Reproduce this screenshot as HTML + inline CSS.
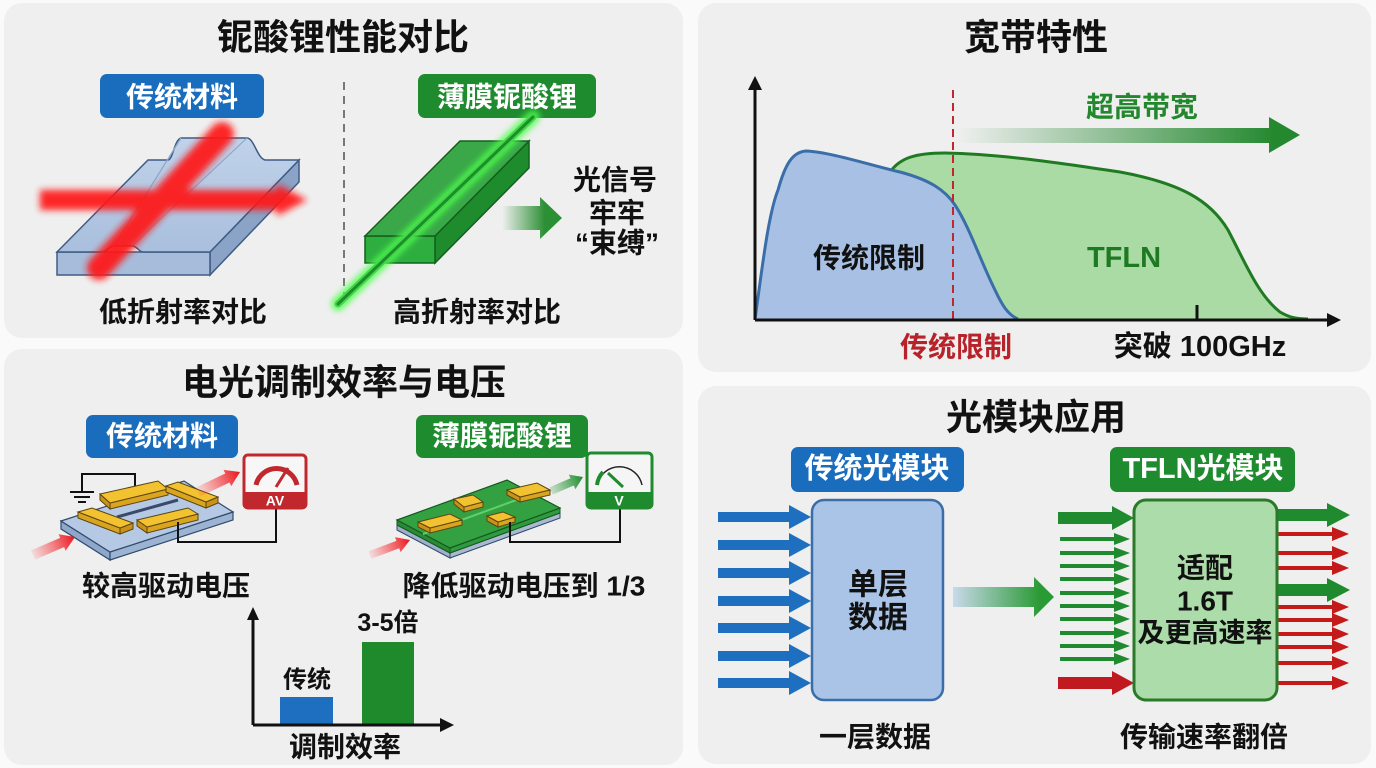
<!DOCTYPE html>
<html><head><meta charset="utf-8"><style>
html,body{margin:0;padding:0;background:#fafafa;}
svg{display:block;}
text{font-family:"Liberation Sans","Noto Sans CJK SC",sans-serif;font-weight:bold;}
</style></head><body>
<svg width="1376" height="768" viewBox="0 0 1376 768" xmlns="http://www.w3.org/2000/svg">
<defs>
<filter id="bl" x="-30%" y="-30%" width="160%" height="160%"><feGaussianBlur stdDeviation="3.5"/></filter>
<filter id="gl" x="-30%" y="-30%" width="160%" height="160%"><feGaussianBlur stdDeviation="3"/></filter>
<linearGradient id="gArr1" x1="502" y1="0" x2="545" y2="0" gradientUnits="userSpaceOnUse"><stop offset="0" stop-color="#2b8f34" stop-opacity="0"/><stop offset="1" stop-color="#2b8f34"/></linearGradient>
<linearGradient id="gArr2" x1="958" y1="0" x2="1275" y2="0" gradientUnits="userSpaceOnUse"><stop offset="0" stop-color="#2a8a35" stop-opacity="0"/><stop offset="1" stop-color="#24882f"/></linearGradient>
<linearGradient id="gArr3" x1="953" y1="0" x2="1040" y2="0" gradientUnits="userSpaceOnUse"><stop offset="0" stop-color="#c9d9ea"/><stop offset="1" stop-color="#2a9a35"/></linearGradient>
<linearGradient id="rA1" x1="198" y1="492" x2="240" y2="472" gradientUnits="userSpaceOnUse"><stop offset="0" stop-color="#ff3030" stop-opacity="0.1"/><stop offset="1" stop-color="#e8141c"/></linearGradient>
<linearGradient id="rA2" x1="33" y1="555" x2="75" y2="537" gradientUnits="userSpaceOnUse"><stop offset="0" stop-color="#ff3030" stop-opacity="0.1"/><stop offset="1" stop-color="#e8141c"/></linearGradient>
<linearGradient id="rA3" x1="370" y1="555" x2="410" y2="540" gradientUnits="userSpaceOnUse"><stop offset="0" stop-color="#ff3030" stop-opacity="0.1"/><stop offset="1" stop-color="#e8141c"/></linearGradient>
<linearGradient id="gA4" x1="551" y1="491" x2="583" y2="477" gradientUnits="userSpaceOnUse"><stop offset="0" stop-color="#2a9a35" stop-opacity="0.2"/><stop offset="1" stop-color="#1f8a2e"/></linearGradient>
<linearGradient id="slabTop" x1="0" y1="140" x2="0" y2="252" gradientUnits="userSpaceOnUse"><stop offset="0" stop-color="#c0d2ea"/><stop offset="1" stop-color="#a9bfdd"/></linearGradient>
</defs>

<!-- panels -->
<rect x="4" y="3" width="679" height="335" rx="18" fill="#efefef"/>
<rect x="4" y="349" width="679" height="416" rx="18" fill="#efefef"/>
<rect x="698" y="3" width="673" height="369" rx="18" fill="#efefef"/>
<rect x="698" y="386" width="673" height="378" rx="18" fill="#efefef"/>

<!-- ================= TOP LEFT ================= -->
<text x="343" y="37" font-size="36" text-anchor="middle" dominant-baseline="central" fill="#111">铌酸锂性能对比</text>
<rect x="100" y="74" width="164" height="44" rx="7" fill="#1a6dbd"/>
<text x="182" y="97" font-size="28" text-anchor="middle" dominant-baseline="central" fill="#fff">传统材料</text>
<rect x="418" y="74" width="178" height="44" rx="7" fill="#1f8b2f"/>
<text x="507" y="97" font-size="28" text-anchor="middle" dominant-baseline="central" fill="#fff">薄膜铌酸锂</text>
<line x1="344" y1="82" x2="344" y2="296" stroke="#777" stroke-width="2" stroke-dasharray="8 6"/>

<!-- slab -->
<polygon points="210,252 299,160 299,182 210,275" fill="#8aa3c6" stroke="#3e5c84" stroke-width="1.5"/>
<rect x="57" y="252" width="153" height="23" fill="#a6bcda" stroke="#3e5c84" stroke-width="1.5"/>
<path d="M57,252 L148,160 L168,160 C173,160 174,140 181,138 L247,138 C254,138 257,158 265,160 L299,160 L210,252 L143,252 C139,252 137,246 132,246 L114,246 C109,246 107,252 102,252 Z" fill="url(#slabTop)" stroke="#3e5c84" stroke-width="1.5"/>
<path d="M181,138 L114,246 M247,138 L132,246" stroke="#8ea6c8" stroke-width="1.2" fill="none"/>
<!-- red light -->
<g filter="url(#bl)" opacity="0.92">
<polygon points="40,190 277,190 277,184 307,200 277,216 277,210 40,210" fill="#ff1414"/>
<line x1="99" y1="268" x2="222" y2="134" stroke="#ff1414" stroke-width="24" stroke-linecap="round"/>
</g>
<text x="183" y="312" font-size="28" text-anchor="middle" dominant-baseline="central" fill="#111">低折射率对比</text>

<!-- green block -->
<polygon points="435,236 529,141 529,168 435,263" fill="#1e8c2c" stroke="#12601c" stroke-width="1.5"/>
<rect x="365" y="236" width="70" height="27" fill="#2fae40" stroke="#12601c" stroke-width="1.5"/>
<polygon points="365,236 460,141 529,141 435,236" fill="#3aa848" stroke="#12601c" stroke-width="1.5"/>
<line x1="338" y1="304" x2="533" y2="117" stroke="#4dff4d" stroke-width="14" stroke-linecap="round" filter="url(#gl)" opacity="0.8"/>
<line x1="338" y1="304" x2="533" y2="117" stroke="#45d64a" stroke-width="7" stroke-linecap="round"/>
<line x1="338" y1="304" x2="533" y2="117" stroke="#1c8f2a" stroke-width="3" stroke-linecap="round"/>
<polygon points="502,206 540,206 540,197 562,218 540,239 540,230 502,230" fill="url(#gArr1)"/>
<text x="615" y="180" font-size="28" text-anchor="middle" dominant-baseline="central" fill="#111">光信号</text>
<text x="617" y="213" font-size="28" text-anchor="middle" dominant-baseline="central" fill="#111">牢牢</text>
<text x="617" y="243" font-size="28" text-anchor="middle" dominant-baseline="central" fill="#111">“束缚”</text>
<text x="477" y="312" font-size="28" text-anchor="middle" dominant-baseline="central" fill="#111">高折射率对比</text>

<!-- ================= TOP RIGHT ================= -->
<text x="1036" y="37" font-size="36" text-anchor="middle" dominant-baseline="central" fill="#111">宽带特性</text>
<polygon points="958,128 1269,128 1269,117 1300,135 1269,153 1269,143 958,143" fill="url(#gArr2)"/>
<text x="1142" y="107" font-size="28" text-anchor="middle" dominant-baseline="central" fill="#23882d">超高带宽</text>
<!-- green area -->
<path d="M890,320 L890,172 C900,158 915,153 945,153 C1000,154 1060,163 1120,172 C1180,183 1210,200 1228,230 C1245,262 1258,295 1280,312 C1290,318 1298,319 1308,319 L890,320 Z" fill="#aadba4"/>
<path d="M890,172 C900,158 915,153 945,153 C1000,154 1060,163 1120,172 C1180,183 1210,200 1228,230 C1245,262 1258,295 1280,312 C1290,318 1298,319 1308,319" fill="none" stroke="#1f7a22" stroke-width="3"/>
<!-- blue area -->
<path d="M755,319 C762,270 768,215 778,190 C785,165 792,152 806,151 C830,152 870,165 900,172 C930,180 945,190 955,205 C970,228 980,260 995,290 C1002,305 1008,315 1018,319 Z" fill="#a7c0e3"/>
<path d="M755,319 C762,270 768,215 778,190 C785,165 792,152 806,151 C830,152 870,165 900,172 C930,180 945,190 955,205 C970,228 980,260 995,290 C1002,305 1008,315 1018,319" fill="none" stroke="#3a6ea8" stroke-width="3"/>
<line x1="953" y1="90" x2="953" y2="320" stroke="#c0282d" stroke-width="2" stroke-dasharray="8 5"/>
<!-- axes -->
<line x1="755" y1="320" x2="755" y2="86" stroke="#111" stroke-width="3"/>
<polygon points="748,90 755,76 762,90" fill="#111"/>
<line x1="755" y1="320" x2="1330" y2="320" stroke="#111" stroke-width="3"/>
<polygon points="1327,313 1341,320 1327,327" fill="#111"/>
<line x1="1197" y1="305" x2="1197" y2="320" stroke="#111" stroke-width="3"/>
<text x="869" y="258" font-size="28" text-anchor="middle" dominant-baseline="central" fill="#111">传统限制</text>
<text x="1124" y="258" font-size="29" text-anchor="middle" dominant-baseline="central" fill="#1e7a22">TFLN</text>
<text x="956" y="347" font-size="28" text-anchor="middle" dominant-baseline="central" fill="#b8222a">传统限制</text>
<text x="1200" y="347" font-size="29" text-anchor="middle" dominant-baseline="central" fill="#111">突破 100GHz</text>

<!-- ================= BOTTOM LEFT ================= -->
<text x="344" y="382" font-size="36" text-anchor="middle" dominant-baseline="central" fill="#111">电光调制效率与电压</text>
<rect x="86" y="415" width="152" height="43" rx="7" fill="#1a6dbd"/>
<text x="162" y="436" font-size="28" text-anchor="middle" dominant-baseline="central" fill="#fff">传统材料</text>
<rect x="416" y="415" width="172" height="43" rx="7" fill="#1f8b2f"/>
<text x="502" y="436" font-size="28" text-anchor="middle" dominant-baseline="central" fill="#fff">薄膜铌酸锂</text>

<!-- left device -->
<polygon points="61,521 110,552 110,560 61,529" fill="#8fa7c9" stroke="#2f4a6d" stroke-width="1.2"/>
<polygon points="110,552 233,512 233,520 110,560" fill="#9db3d2" stroke="#2f4a6d" stroke-width="1.2"/>
<polygon points="61,521 184,481 233,512 110,552" fill="#b6c9e4" stroke="#2f4a6d" stroke-width="1.2"/>
<line x1="117" y1="517" x2="178" y2="500" stroke="#3a4a6a" stroke-width="3"/>
<!-- wires -->
<polyline points="82,492 82,474 135,474 135,490" fill="none" stroke="#111" stroke-width="2"/>
<line x1="70" y1="492" x2="94" y2="492" stroke="#111" stroke-width="2"/>
<line x1="74" y1="497" x2="90" y2="497" stroke="#111" stroke-width="2"/>
<line x1="78" y1="502" x2="86" y2="502" stroke="#111" stroke-width="2"/>
<!-- electrodes -->
<g stroke="#5c4510" stroke-width="1">
<polygon points="100,494 110,503 110,509 100,500" fill="#c9931a"/>
<polygon points="110,503 168,489 168,495 110,509" fill="#d9a521"/>
<polygon points="100,494 158,481 168,489 110,503" fill="#f2c230"/>
<polygon points="166,486 206,502 206,508 166,492" fill="#d9a521"/>
<polygon points="206,502 218,497 218,503 206,508" fill="#c9931a"/>
<polygon points="166,486 178,482 218,497 206,502" fill="#f2c230"/>
<polygon points="78,512 120,528 120,534 78,518" fill="#d9a521"/>
<polygon points="120,528 133,523 133,529 120,534" fill="#c9931a"/>
<polygon points="78,512 92,508 133,523 120,528" fill="#f2c230"/>
<polygon points="137,520 147,527 147,533 137,526" fill="#c9931a"/>
<polygon points="147,527 198,514 198,520 147,533" fill="#d9a521"/>
<polygon points="137,520 188,508 198,514 147,527" fill="#f2c230"/>
</g>
<polyline points="178,522 178,542 276,542 276,508" fill="none" stroke="#111" stroke-width="2"/>
<!-- red meter -->
<rect x="244" y="455" width="62" height="53" rx="4" fill="#f7f7f7" stroke="#c0282d" stroke-width="3"/>
<rect x="244" y="492" width="62" height="16" fill="#c0282d"/>
<text x="275" y="500.5" font-size="14" text-anchor="middle" dominant-baseline="central" fill="#fff">AV</text>
<path d="M256,485 A21,21 0 0 1 297,485" fill="none" stroke="#c0282d" stroke-width="5"/>
<line x1="276" y1="487" x2="288" y2="468" stroke="#c0282d" stroke-width="3"/>
<polygon points="195.9,487.5 225.3,473.5 223.5,469.9 240,472 231.3,486.1 229.5,482.5 200.1,496.5" fill="url(#rA1)"/>
<polygon points="31,550.4 60.1,537.9 58.6,534.2 75,537 65.6,550.8 64.1,547.1 35,559.6" fill="url(#rA2)"/>
<text x="166" y="586" font-size="28" text-anchor="middle" dominant-baseline="central" fill="#111">较高驱动电压</text>

<!-- right device -->
<polygon points="397,530 450,558 450,553 397,525" fill="#9fb0c8" stroke="#2f4a6d" stroke-width="1"/>
<polygon points="450,558 560,518 560,513 450,553" fill="#aab9cf" stroke="#2f4a6d" stroke-width="1"/>
<polygon points="397,520 450,548 450,553 397,525" fill="#2a8a36" stroke="#145a1f" stroke-width="1"/>
<polygon points="450,548 560,508 560,513 450,553" fill="#2f9a3e" stroke="#145a1f" stroke-width="1"/>
<polygon points="397,520 507,480 560,508 450,548" fill="#33a142" stroke="#145a1f" stroke-width="1.2"/>
<line x1="423" y1="534" x2="533" y2="494" stroke="#5fd06a" stroke-width="2"/>
<g stroke="#5c4510" stroke-width="1">
<polygon points="464,507 483,502 483,507 464,512" fill="#d9a521"/>
<polygon points="454,499 464,507 464,512 454,504" fill="#c9931a"/>
<polygon points="454,499 473,495 483,502 464,507" fill="#f2c230"/>
<polygon points="520,497 550,490 550,495 520,502" fill="#d9a521"/>
<polygon points="507,490 520,497 520,502 507,495" fill="#c9931a"/>
<polygon points="507,490 537,483 550,490 520,497" fill="#f2c230"/>
<polygon points="430,528 462,520 462,525 430,533" fill="#d9a521"/>
<polygon points="418,522 430,528 430,533 418,527" fill="#c9931a"/>
<polygon points="418,522 450,514 462,520 430,528" fill="#f2c230"/>
<polygon points="498,522 515,517 515,522 498,527" fill="#d9a521"/>
<polygon points="487,516 498,522 498,527 487,521" fill="#c9931a"/>
<polygon points="487,516 503,512 515,517 498,522" fill="#f2c230"/>
</g>
<polyline points="510,522 510,542 620,542 620,508" fill="none" stroke="#111" stroke-width="2"/>
<!-- green meter -->
<rect x="587" y="453" width="65" height="55" rx="4" fill="#f5f5f5" stroke="#1f8a2e" stroke-width="3"/>
<rect x="587" y="492" width="65" height="16" fill="#1f8a2e"/>
<text x="619" y="500.5" font-size="14" text-anchor="middle" dominant-baseline="central" fill="#fff">V</text>
<path d="M597,485 A23,23 0 0 1 642,485" fill="none" stroke="#222" stroke-width="1.5"/>
<path d="M597,485 A23,23 0 0 1 603,472" fill="none" stroke="#1f8a2e" stroke-width="4"/>
<line x1="623" y1="487" x2="608" y2="473" stroke="#1f8a2e" stroke-width="3"/>
<polygon points="549.4,487.4 570.5,478.3 568.8,474.6 583,477 575.4,489.2 573.7,485.5 552.6,494.6" fill="url(#gA4)"/>
<polygon points="368.6,551.3 396.4,540.9 395,537.1 410,540 400.6,552.1 399.2,548.3 371.4,558.7" fill="url(#rA3)"/>
<text x="524" y="586" font-size="28" text-anchor="middle" dominant-baseline="central" fill="#111">降低驱动电压到 1/3</text>

<!-- bar chart -->
<rect x="280" y="697" width="53" height="28" fill="#1e6fbf"/>
<rect x="362" y="642" width="52" height="83" fill="#1e8a2c"/>
<line x1="253" y1="725" x2="253" y2="618" stroke="#111" stroke-width="3"/>
<polygon points="247,620 253,607 259,620" fill="#111"/>
<line x1="253" y1="725" x2="442" y2="725" stroke="#111" stroke-width="3"/>
<polygon points="440,718 454,725 440,732" fill="#111"/>
<text x="307" y="680" font-size="24" text-anchor="middle" dominant-baseline="central" fill="#111">传统</text>
<text x="388" y="623" font-size="25" text-anchor="middle" dominant-baseline="central" fill="#111">3-5倍</text>
<text x="345" y="747" font-size="28" text-anchor="middle" dominant-baseline="central" fill="#111">调制效率</text>

<!-- ================= BOTTOM RIGHT ================= -->
<text x="1036" y="417" font-size="36" text-anchor="middle" dominant-baseline="central" fill="#111">光模块应用</text>
<rect x="791" y="447" width="173" height="45" rx="7" fill="#1a6dbd"/>
<text x="877" y="469" font-size="29" text-anchor="middle" dominant-baseline="central" fill="#fff">传统光模块</text>
<rect x="1110" y="447" width="185" height="45" rx="7" fill="#1f8b2f"/>
<text x="1203" y="469" font-size="29" text-anchor="middle" dominant-baseline="central" fill="#fff">TFLN光模块</text>

<!-- blue input arrows -->
<g fill="#1f6fc0">
<rect x="718" y="512" width="73" height="10"/><polygon points="789,505 811,517 789,529"/>
<rect x="718" y="540" width="73" height="10"/><polygon points="789,533 811,545 789,557"/>
<rect x="718" y="568" width="73" height="10"/><polygon points="789,561 811,573 789,585"/>
<rect x="718" y="596" width="73" height="10"/><polygon points="789,589 811,601 789,613"/>
<rect x="718" y="623" width="73" height="10"/><polygon points="789,616 811,628 789,640"/>
<rect x="718" y="651" width="73" height="10"/><polygon points="789,644 811,656 789,668"/>
<rect x="718" y="678" width="73" height="10"/><polygon points="789,671 811,683 789,695"/>
</g>
<rect x="812" y="500" width="131" height="200" rx="12" fill="#a9c4e6" stroke="#3a6ea8" stroke-width="2.5"/>
<text x="878" y="585" font-size="30" text-anchor="middle" dominant-baseline="central" fill="#111">单层</text>
<text x="878" y="618" font-size="30" text-anchor="middle" dominant-baseline="central" fill="#111">数据</text>
<polygon points="953,587 1034,587 1034,577 1054,597 1034,617 1034,607 953,607" fill="url(#gArr3)"/>

<!-- TFLN input arrows -->
<g fill="#1f8a2e">
<rect x="1058" y="512" width="56" height="12"/><polygon points="1112,506 1134,518 1112,530"/>
</g>
<g stroke="#1f8a2e" stroke-width="4">
<line x1="1060" y1="539" x2="1116" y2="539"/><line x1="1060" y1="553" x2="1116" y2="553"/>
<line x1="1060" y1="566" x2="1116" y2="566"/><line x1="1060" y1="579" x2="1116" y2="579"/>
<line x1="1060" y1="593" x2="1116" y2="593"/><line x1="1060" y1="606" x2="1116" y2="606"/>
<line x1="1060" y1="619" x2="1116" y2="619"/><line x1="1060" y1="633" x2="1116" y2="633"/>
<line x1="1060" y1="646" x2="1116" y2="646"/><line x1="1060" y1="659" x2="1116" y2="659"/>
</g>
<g fill="#1f8a2e">
<polygon points="1114,533 1130,539 1114,545"/><polygon points="1114,547 1130,553 1114,559"/>
<polygon points="1114,560 1130,566 1114,572"/><polygon points="1114,573 1130,579 1114,585"/>
<polygon points="1114,587 1130,593 1114,599"/><polygon points="1114,600 1130,606 1114,612"/>
<polygon points="1114,613 1130,619 1114,625"/><polygon points="1114,627 1130,633 1114,639"/>
<polygon points="1114,640 1130,646 1114,652"/><polygon points="1114,653 1130,659 1114,665"/>
</g>
<g fill="#c0191f">
<rect x="1058" y="677" width="56" height="12"/><polygon points="1112,671 1134,683 1112,695"/>
</g>

<!-- TFLN outputs -->
<g fill="#1f8a2e">
<rect x="1277" y="509" width="52" height="12"/><polygon points="1327,503 1350,515 1327,527"/>
<rect x="1277" y="584" width="52" height="12"/><polygon points="1327,578 1350,590 1327,602"/>
</g>
<g stroke="#c41a1a" stroke-width="4">
<line x1="1277" y1="534" x2="1336" y2="534"/><line x1="1277" y1="553" x2="1336" y2="553"/>
<line x1="1277" y1="568" x2="1336" y2="568"/><line x1="1277" y1="607" x2="1336" y2="607"/>
<line x1="1277" y1="620" x2="1336" y2="620"/><line x1="1277" y1="634" x2="1336" y2="634"/>
<line x1="1277" y1="647" x2="1336" y2="647"/><line x1="1277" y1="663" x2="1336" y2="663"/>
<line x1="1277" y1="683" x2="1336" y2="683"/>
</g>
<g fill="#c41a1a">
<polygon points="1332,527 1349,534 1332,541"/><polygon points="1332,546 1349,553 1332,560"/>
<polygon points="1332,561 1349,568 1332,575"/><polygon points="1332,600 1349,607 1332,614"/>
<polygon points="1332,613 1349,620 1332,627"/><polygon points="1332,627 1349,634 1332,641"/>
<polygon points="1332,640 1349,647 1332,654"/><polygon points="1332,656 1349,663 1332,670"/>
<polygon points="1332,676 1349,683 1332,690"/>
</g>
<rect x="1134" y="500" width="143" height="200" rx="12" fill="#acdcaa" stroke="#2a7a2a" stroke-width="3"/>
<text x="1205" y="568" font-size="28" text-anchor="middle" dominant-baseline="central" fill="#111">适配</text>
<text x="1205" y="601" font-size="28" text-anchor="middle" dominant-baseline="central" fill="#111">1.6T</text>
<text x="1205" y="633" font-size="27" text-anchor="middle" dominant-baseline="central" fill="#111">及更高速率</text>

<text x="875" y="737" font-size="28" text-anchor="middle" dominant-baseline="central" fill="#111">一层数据</text>
<text x="1204" y="737" font-size="28" text-anchor="middle" dominant-baseline="central" fill="#111">传输速率翻倍</text>
</svg>
</body></html>
